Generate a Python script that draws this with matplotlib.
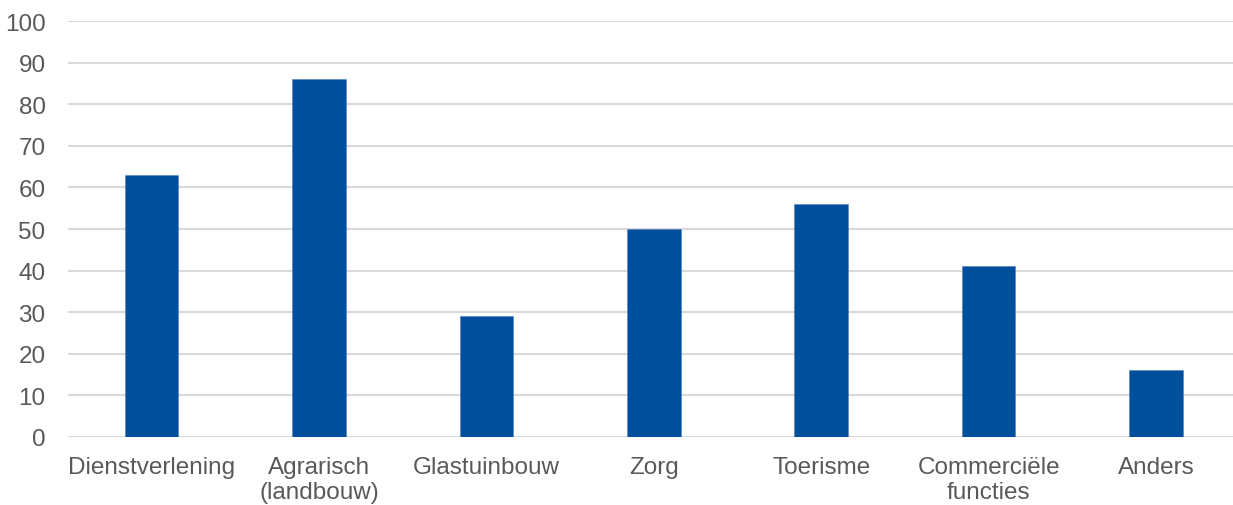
import matplotlib
matplotlib.use("Agg")
import matplotlib.pyplot as plt

categories = ["Dienstverlening", "Agrarisch\n(landbouw)", "Glastuinbouw", "Zorg",
              "Toerisme", "Commerciële\nfuncties", "Anders"]
values = [63, 86, 29, 50, 56, 41, 16]
yticks = [0, 10, 20, 30, 40, 50, 60, 70, 80, 90, 100]

plt.rcParams['font.family'] = ['Liberation Sans', 'DejaVu Sans']

fig = plt.figure(figsize=(12.33, 5.06), dpi=100)
ax = fig.add_axes([0.055, 0.1344, 0.9505, 0.8221])

x = range(len(categories))
ax.bar(x, values, width=0.32, color="#004F9C", zorder=3, edgecolor="#4F7FBF", linewidth=0.4)

ax.set_ylim(0, 100)
ax.set_xlim(-0.5, len(categories) - 0.5)
ax.set_yticks(yticks)
ax.set_xticks(list(x))
ax.set_xticklabels(categories, linespacing=1.17)
ax.yaxis.grid(True, color="#D9D9D9", linewidth=1.5, zorder=0)
ax.set_axisbelow(True)
for s in ax.spines.values():
    s.set_visible(False)
ax.tick_params(axis="both", length=0, labelsize=17.5, colors="#595959")
ax.tick_params(axis="x", pad=14)
ax.tick_params(axis="y", pad=16)

fig.savefig("out.png", dpi=100)
